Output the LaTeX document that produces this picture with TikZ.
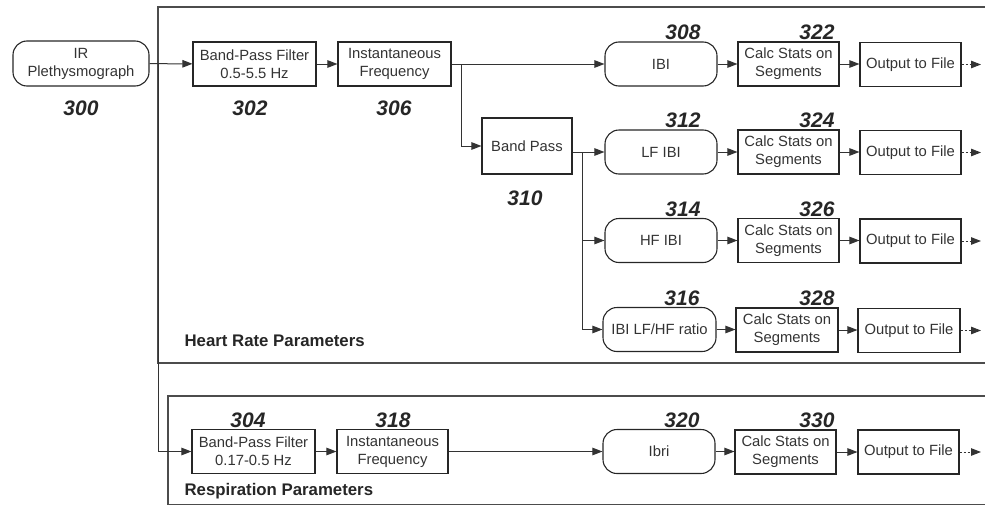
\documentclass[tikz,border=0pt]{standalone}
\usepackage{fontspec}
\setmainfont{Liberation Sans}
\usetikzlibrary{arrows.meta}
\begin{document}
\begin{tikzpicture}[x=1pt,y=-1pt,
  box/.style={draw=black!85, line width=1.1pt, minimum height=44pt, inner sep=0pt, align=center, font=\fontsize{14.8}{18}\selectfont, text=black!80},
  rbox/.style={box, rounded corners=14pt},
  num/.style={font=\fontsize{21}{21}\selectfont\bfseries\itshape, text=black!85},
  arr/.style={draw=black!80, line width=1pt, -{Triangle[length=10pt,width=7.5pt]}},
  darr/.style={arr, dash pattern=on 2pt off 2pt},
  panel/.style={draw=black!70, line width=1.3pt},
  ptitle/.style={font=\fontsize{16.8}{17}\selectfont\bfseries, text=black!85, anchor=west}]
\useasboundingbox (0,0) rectangle (985,506);
% panels
\draw[panel] (985,7) -- (158,7) -- (158,363) -- (985,363);
\draw[panel] (985,396) -- (168,396) -- (168,504.5) -- (985,504.5);
\node[ptitle] (hrp) at (181,341) {Heart Rate Parameters};
\node[ptitle] (rp) at (181,491) {Respiration Parameters};
% top chain
\node[rbox, minimum width=136pt, minimum height=45pt] (ir) at (81,63.5) {IR\\Plethysmograph};
\node[box, minimum width=123pt] (bpf1) at (254.5,64) {Band-Pass Filter\\0.5-5.5 Hz};
\node[box, minimum width=113pt] (if1) at (394.5,64) {Instantaneous\\Frequency};
\node[box, minimum width=90pt, minimum height=56pt] (bp) at (527,146) {Band Pass};
\node[num] (n300) at (81,108) {300};
\node[num] (n302) at (250,108) {302};
\node[num] (n306) at (394,108) {306};
\node[num] (n310) at (525,198) {310};
% row 1
\node[rbox, minimum width=112pt] (ibi) at (661,64) {IBI};
\node[box, minimum width=101pt] (cs1) at (788.5,64) {Calc Stats on\\Segments};
\node[box, minimum width=101pt] (of1) at (910.5,64.5) {Output to File};
\node[num] (n308) at (683,32) {308};
\node[num] (n322) at (817,32) {322};
% row 2
\node[rbox, minimum width=112pt] (lf) at (661,152) {LF IBI};
\node[box, minimum width=101pt] (cs2) at (788.5,152) {Calc Stats on\\Segments};
\node[box, minimum width=101pt] (of2) at (910.5,152.5) {Output to File};
\node[num] (n312) at (683,120) {312};
\node[num] (n324) at (817,120) {324};
% row 3
\node[rbox, minimum width=112pt] (hf) at (661,240.5) {HF IBI};
\node[box, minimum width=101pt] (cs3) at (788.5,240.5) {Calc Stats on\\Segments};
\node[box, minimum width=101pt] (of3) at (910.5,241) {Output to File};
\node[num] (n314) at (683,209) {314};
\node[num] (n326) at (817,209) {326};
% row 4
\node[rbox, minimum width=113pt] (ratio) at (659.5,329.5) {IBI LF/HF ratio};
\node[box, minimum width=102pt] (cs4) at (787,330) {Calc Stats on\\Segments};
\node[box, minimum width=102pt] (of4) at (909,330.5) {Output to File};
\node[num] (n316) at (682,298) {316};
\node[num] (n328) at (817,298) {328};
% respiration row
\node[box, minimum width=123pt] (bpf2) at (253.5,451.5) {Band-Pass Filter\\0.17-0.5 Hz};
\node[box, minimum width=111pt] (if2) at (392.5,451.5) {Instantaneous\\Frequency};
\node[rbox, minimum width=112pt] (ibri) at (659,451.5) {Ibri};
\node[box, minimum width=101pt] (cs5) at (785.5,452) {Calc Stats on\\Segments};
\node[box, minimum width=101pt] (of5) at (908.5,452) {Output to File};
\node[num] (n304) at (248,420) {304};
\node[num] (n318) at (393,420) {318};
\node[num] (n320) at (682,420) {320};
\node[num] (n330) at (817,420) {330};
% junctions and ends
\coordinate (j1) at (158,64);
\coordinate (j2) at (461,64);
\coordinate (j3) at (582,152);
\coordinate (e1) at (981,64.5);
\coordinate (e2) at (981,152.5);
\coordinate (e3) at (981,241);
\coordinate (e4) at (981,330.5);
\coordinate (e5) at (981,452);
% connectors
\draw[arr] (ir) -- (bpf1);
\draw[arr] (bpf1) -- (if1);
\draw[arr] (if1) -- (ibi);
\draw[arr] (j2) |- (bp);
\draw[arr] (bp.east |- lf) -- (lf);
\draw[arr] (j3) |- (hf);
\draw[arr] (j3) |- (ratio);
\draw[arr] (j1) |- (bpf2);
\draw[arr] (bpf2) -- (if2);
\draw[arr] (if2) -- (ibri);
\draw[arr] (ibi) -- (cs1);
\draw[arr] (cs1) -- (of1.west |- cs1);
\draw[darr] (of1) -- (e1);
\draw[arr] (lf) -- (cs2);
\draw[arr] (cs2) -- (of2.west |- cs2);
\draw[darr] (of2) -- (e2);
\draw[arr] (hf) -- (cs3);
\draw[arr] (cs3) -- (of3.west |- cs3);
\draw[darr] (of3) -- (e3);
\draw[arr] (ratio) -- (cs4.west |- ratio);
\draw[arr] (cs4) -- (of4.west |- cs4);
\draw[darr] (of4) -- (e4);
\draw[arr] (ibri) -- (cs5.west |- ibri);
\draw[arr] (cs5) -- (of5);
\draw[darr] (of5) -- (e5);
\end{tikzpicture}
\end{document}
